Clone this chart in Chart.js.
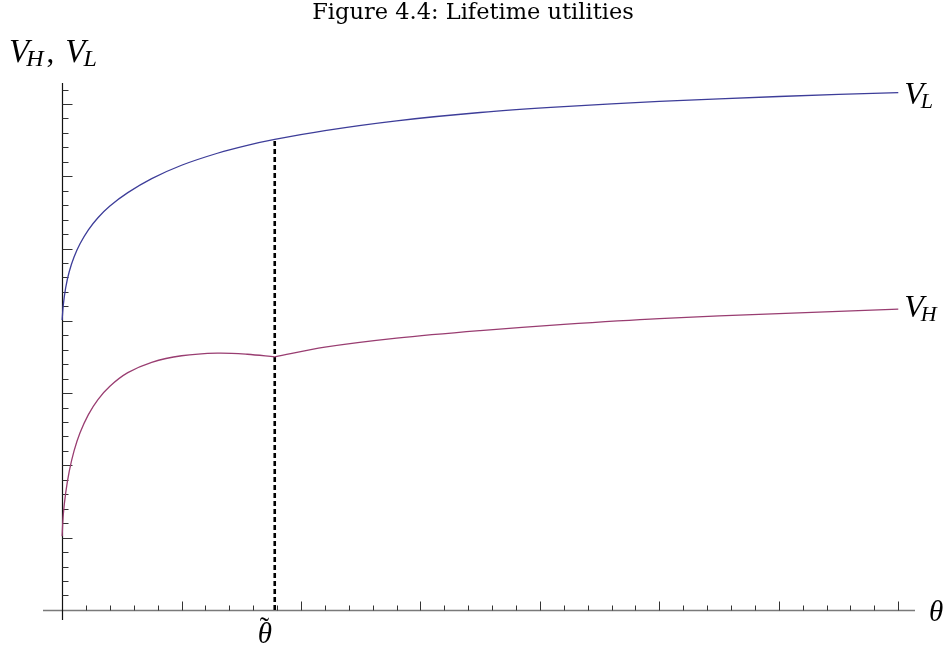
<!DOCTYPE html>
<html>
<head>
<meta charset="utf-8">
<script src="https://cdn.jsdelivr.net/npm/chart.js@4.4.1/dist/chart.umd.min.js"></script>
<style>
  body { margin: 0; background: #fff; }
  canvas { display: block; }
</style>
</head>
<body>
<canvas id="chart" width="946" height="650"></canvas>
<script>
// values (theta on x, lifetime utility on y)
const thetaVals = [0, 0.01, 0.03, 0.06, 0.1, 0.15, 0.22, 0.3, 0.4, 0.55, 0.75, 1.0, 1.3, 1.55, 1.78, 2.2, 2.8, 3.5, 4.2, 5.0, 6.0, 7.0];
const vLVals = [4.01, 4.22, 4.46, 4.682, 4.882, 5.065, 5.258, 5.426, 5.588, 5.773, 5.967, 6.152, 6.318, 6.428, 6.51, 6.632, 6.767, 6.882, 6.963, 7.035, 7.103, 7.158];
const vHVals = [1.02, 1.32, 1.62, 1.92, 2.20, 2.45, 2.702, 2.91, 3.095, 3.282, 3.426, 3.516, 3.552, 3.537, 3.50, 3.635, 3.76, 3.865, 3.95, 4.03, 4.10, 4.16];
const thetaTilde = 1.78;
const xMajorStep = 1, xMinorStep = 0.2, xTickMax = 7;
const yMajorStep = 1, yMinorStep = 0.2, yTickMax = 7.2;

const colorL = '#3d3d99';
const colorH = '#993d71';

const kink = thetaVals.indexOf(thetaTilde);
const pts = (xs, ys) => xs.map((x, i) => ({ x: x, y: ys[i] }));

const vLData = pts(thetaVals, vLVals);
const vHLeft = pts(thetaVals.slice(0, kink + 1), vHVals.slice(0, kink + 1));
const vHRight = pts(thetaVals.slice(kink), vHVals.slice(kink));
const dashData = [{ x: thetaTilde, y: 0 }, { x: thetaTilde, y: vLVals[kink] }];

function mathText(ctx, parts, x, y) {
    // parts: [text, size, italic, dy, kern]
    parts.forEach(p => {
        ctx.font = (p[2] ? 'italic ' : '') + p[1] + 'px "Liberation Serif", serif';
        x += p[4] || 0;
        ctx.fillText(p[0], x, y + (p[3] || 0));
        x += ctx.measureText(p[0]).width;
    });
}

const axesPlugin = {
    id: 'mmaAxes',
    beforeDatasetsDraw(chart) {
        const ctx = chart.ctx;
        const xs = chart.scales.x, ys = chart.scales.y;
        const area = chart.chartArea;
        const x0 = Math.round(xs.getPixelForValue(0)) + 0.5;
        const y0 = Math.round(ys.getPixelForValue(0)) + 0.5;
        ctx.save();
        // x axis
        ctx.strokeStyle = '#7a7a7a';
        ctx.lineWidth = 1.3;
        ctx.beginPath();
        ctx.moveTo(area.left, y0);
        ctx.lineTo(area.right, y0);
        ctx.stroke();
        // y axis
        ctx.strokeStyle = '#111';
        ctx.lineWidth = 1.2;
        ctx.beginPath();
        ctx.moveTo(x0, area.top);
        ctx.lineTo(x0, area.bottom);
        ctx.stroke();
        // ticks
        ctx.strokeStyle = '#333';
        ctx.lineWidth = 1;
        for (let i = 1; i * xMinorStep <= xTickMax + 1e-9; i++) {
            const v = i * xMinorStep;
            const major = Math.abs(v / xMajorStep - Math.round(v / xMajorStep)) < 1e-6;
            const px = Math.round(xs.getPixelForValue(v)) + 0.5;
            ctx.beginPath();
            ctx.moveTo(px, y0);
            ctx.lineTo(px, y0 - (major ? 9 : 5));
            ctx.stroke();
        }
        for (let i = 1; i * yMinorStep <= yTickMax + 1e-9; i++) {
            const v = i * yMinorStep;
            const major = Math.abs(v / yMajorStep - Math.round(v / yMajorStep)) < 1e-6;
            const py = Math.round(ys.getPixelForValue(v)) + 0.5;
            ctx.beginPath();
            ctx.moveTo(x0, py);
            ctx.lineTo(x0 + (major ? 10 : 6), py);
            ctx.stroke();
        }
        ctx.restore();
    },
    afterDraw(chart) {
        const ctx = chart.ctx;
        const xs = chart.scales.x, ys = chart.scales.y;
        ctx.save();
        ctx.fillStyle = '#000';
        ctx.textBaseline = 'alphabetic';
        // title
        ctx.font = '22.5px "DejaVu Serif", serif';
        ctx.textAlign = 'center';
        ctx.fillText('Figure 4.4: Lifetime utilities', 473, 19);
        ctx.textAlign = 'left';
        // y axis label
        mathText(ctx, [['V', 33, true], ['H', 24, true, 4, -3], [',', 31, false, 0, 3], ['V', 33, true, 0, 11], ['L', 24, true, 4, -2]], 9, 62);
        // curve labels
        const lx = xs.getPixelForValue(thetaVals[thetaVals.length - 1]) + 6;
        mathText(ctx, [['V', 32, true], ['L', 22, true, 4, -3]], lx, ys.getPixelForValue(vLVals[vLVals.length - 1]) + 11);
        mathText(ctx, [['V', 32, true], ['H', 22, true, 4, -3]], lx, ys.getPixelForValue(vHVals[vHVals.length - 1]) + 8);
        // theta labels
        ctx.font = 'italic 29px "Liberation Serif", serif';
        ctx.fillText('\u03b8', 929, ys.getPixelForValue(0) + 11);
        const tx = xs.getPixelForValue(thetaTilde) - 17;
        ctx.fillText('\u03b8', tx, 643);
        ctx.font = '28px "Liberation Serif", serif';
        ctx.fillText('\u02dc', tx + 2, 636);
        ctx.restore();
    }
};

new Chart(document.getElementById('chart'), {
    type: 'line',
    data: {
        datasets: [
            { data: vLData, borderColor: colorL, borderWidth: 1.3, pointRadius: 0, tension: 0.35 },
            { data: vHLeft, borderColor: colorH, borderWidth: 1.3, pointRadius: 0, tension: 0.35 },
            { data: vHRight, borderColor: colorH, borderWidth: 1.3, pointRadius: 0, tension: 0.35 },
            { data: dashData, borderColor: '#000', borderWidth: 2.6, borderDash: [5, 3], pointRadius: 0, tension: 0 }
        ]
    },
    options: {
        responsive: false,
        animation: false,
        devicePixelRatio: 1,
        layout: { padding: { left: 43, right: 31, top: 83, bottom: 30 } },
        plugins: { legend: { display: false }, tooltip: { enabled: false }, title: { display: false } },
        scales: {
            x: { type: 'linear', min: -0.16, max: 7.14, display: false },
            y: { type: 'linear', min: -0.14, max: 7.29, display: false }
        }
    },
    plugins: [axesPlugin]
});
</script>
</body>
</html>
